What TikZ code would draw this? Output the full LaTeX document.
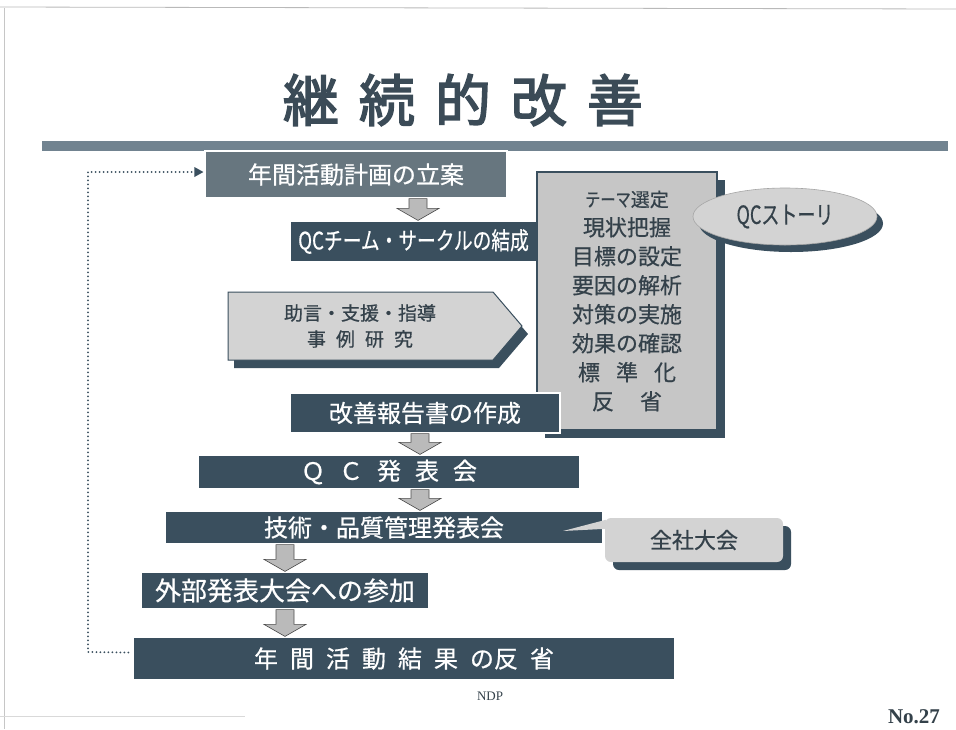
\documentclass[tikz,border=0pt]{standalone}
\usepackage{fontspec}
\usepackage{graphicx}
\setmainfont{Liberation Serif}
\newfontfamily\jp[FakeBold=0.6]{Noto Sans CJK JP}
\newfontfamily\jpbold[FakeBold=2.8]{Noto Sans CJK JP}
\usetikzlibrary{calc,shapes.geometric,shadows,arrows.meta}
\definecolor{slate}{HTML}{3A4F5E}
\definecolor{slatelight}{HTML}{67767F}
\definecolor{panel}{HTML}{C6C6C6}
\definecolor{panellight}{HTML}{D3D3D3}
\definecolor{arrowgray}{HTML}{BABABA}
\definecolor{titlec}{HTML}{3B4B57}
\definecolor{barc}{HTML}{718390}
\definecolor{inktext}{HTML}{34414A}
\tikzset{
  darkbox/.style={fill=slate, draw=white, line width=1.2pt, text=white, inner sep=0pt, font=\jp\fontsize{24}{28}\selectfont},
  blockarr/.style={fill=arrowgray, draw=gray!60!black, line width=0.6pt},
  panelshadow/.style={drop shadow={shadow xshift=8pt, shadow yshift=-8pt, fill=slate, opacity=1}},
  looptrace/.style={draw=slate, line width=2pt, line cap=round, dash pattern=on 0pt off 4pt},
}
\newcommand{\blk}[3]{%
  \path[blockarr] let \p1=#2, \p2=#3 in
  ({#1pt-9pt},\y1) -- ({#1pt+9pt},\y1) -- ({#1pt+9pt},{\y2+12pt}) -- ({#1pt+21pt},{\y2+12pt})
  -- ({#1pt},\y2) -- ({#1pt-21pt},{\y2+12pt}) -- ({#1pt-9pt},{\y2+12pt}) -- cycle;}
\begin{document}
\begin{tikzpicture}[x=1pt,y=-1pt]
\useasboundingbox (0,0) rectangle (956,729);
\fill[white] (0,0) rectangle (956,729);
% frame lines
\draw[gray!55, line width=0.8pt] (0,7) -- (956,9);
\draw[gray!45, line width=0.6pt] (4,8) -- (4,729);
\draw[gray!30, line width=0.6pt] (0,716) -- (245,716);
% title
\node (title) [text=titlec, font=\jpbold\fontsize{56}{60}\selectfont] at (463,100) {継\hspace{20pt}続\hspace{20pt}的\hspace{20pt}改\hspace{20pt}善};
\fill[barc] (42,141) rectangle (948,151);

% QC story panel (behind the team box end)
\node (team) [darkbox, minimum width=247pt, minimum height=41pt] at (413.5,241.5)
  {\fontsize{24}{28}\selectfont\scalebox{0.78}[1]{QCチーム・サークルの結成}};
\node (story) [fill=panel, draw=slate, line width=2pt, panelshadow, minimum width=180pt, minimum height=258pt,
  text=inktext, align=center, font=\jp\fontsize{22}{29}\selectfont] at (627,301)
  {{\fontsize{19}{29}\selectfont\scalebox{0.8}[1]{テーマ}選定}\\現状把握\\目標の設定\\要因の解析\\対策の実施\\効果の確認\\標\hspace{16pt}準\hspace{16pt}化\\反\hspace{26pt}省};
\node (qcs) [ellipse, fill=panellight, draw=gray!70, line width=0.6pt,
  drop shadow={shadow xshift=6pt, shadow yshift=-7pt, fill=slate, opacity=1},
  minimum width=184pt, minimum height=57pt, text=inktext, font=\jp\fontsize{25}{28}\selectfont] at (785,216.5)
  {\scalebox{0.72}[1]{QCストーリ}};

% plan box
\node (plan) [darkbox, fill=slatelight, minimum width=302pt, minimum height=47pt] at (356,174.5) {年間活動計画の立案};

% advice pentagon
\path[fill=panellight, draw=slate, line width=1pt, drop shadow={shadow xshift=6pt, shadow yshift=-8pt, fill=slate, opacity=1}]
  (228,292) -- (493,292) -- (522,326) -- (493,360) -- (228,360) -- cycle;
\node (advice) [text=inktext, align=center, font=\jp\fontsize{19}{26}\selectfont] at (360,326)
  {助言・支援・指導\\事\hspace{10pt}例\hspace{10pt}研\hspace{10pt}究};

% lower chain
\node (report) [darkbox, minimum width=270pt, minimum height=40pt] at (425,413) {改善報告書の作成};
\node (qcmeet) [darkbox, minimum width=382pt, minimum height=34pt] at (389,472)
  {Ｑ\hspace{14pt}Ｃ\hspace{14pt}発\hspace{14pt}表\hspace{14pt}会};
\node (tech) [darkbox, minimum width=438pt, minimum height=33pt] at (384,527.5) {技術・品質管理発表会};
\node (zensha) [fill=panellight, rounded corners=6pt, minimum width=178pt, minimum height=44pt,
  drop shadow={shadow xshift=8pt, shadow yshift=-8pt, fill=slate, opacity=1},
  text=inktext, font=\jp\fontsize{22}{26}\selectfont] at (694,540) {全社大会};
\coordinate (calltip) at (563,531);
\fill[panellight] (calltip) -- ($(zensha.north west)+(1,2)$) -- ($(zensha.north west)+(1,11)$) -- cycle;
\node (ext) [darkbox, font=\jp\fontsize{26}{30}\selectfont, minimum width=288pt, minimum height=37pt] at (285,590.5) {外部発表大会への参加};
\node (review) [darkbox, minimum width=542pt, minimum height=43pt] at (404,658.5)
  {年\hspace{12pt}間\hspace{12pt}活\hspace{12pt}動\hspace{12pt}結\hspace{12pt}果\hspace{12pt}の反\hspace{12pt}省};

% block arrows
\blk{418}{(plan.south)}{(team.north)}
\blk{420}{(report.south)}{(qcmeet.north)}
\blk{420}{(qcmeet.south)}{(tech.north)}
\blk{285}{(tech.south)}{(ext.north)}
\blk{285}{(ext.south)}{(review.north)}

% feedback loop
\coordinate (loopcorner) at (88,652);
\draw[looptrace] ($(review.west)+(-4,-6)$) -- (loopcorner) -- (88,172) -- ($(plan.west)+(-11,-2.5)$);
\fill[slate] ($(plan.west)+(-1,-2.5)$) -- ++(-9,-5) -- ++(0,10) -- cycle;

% footer
\node (ndp) [font=\fontsize{13}{15}\selectfont, text=inktext] at (490,696) {NDP};
\node (num) [font=\bfseries\fontsize{21}{24}\selectfont, text=inktext] at (914,717) {No.27};
\end{tikzpicture}
\end{document}
